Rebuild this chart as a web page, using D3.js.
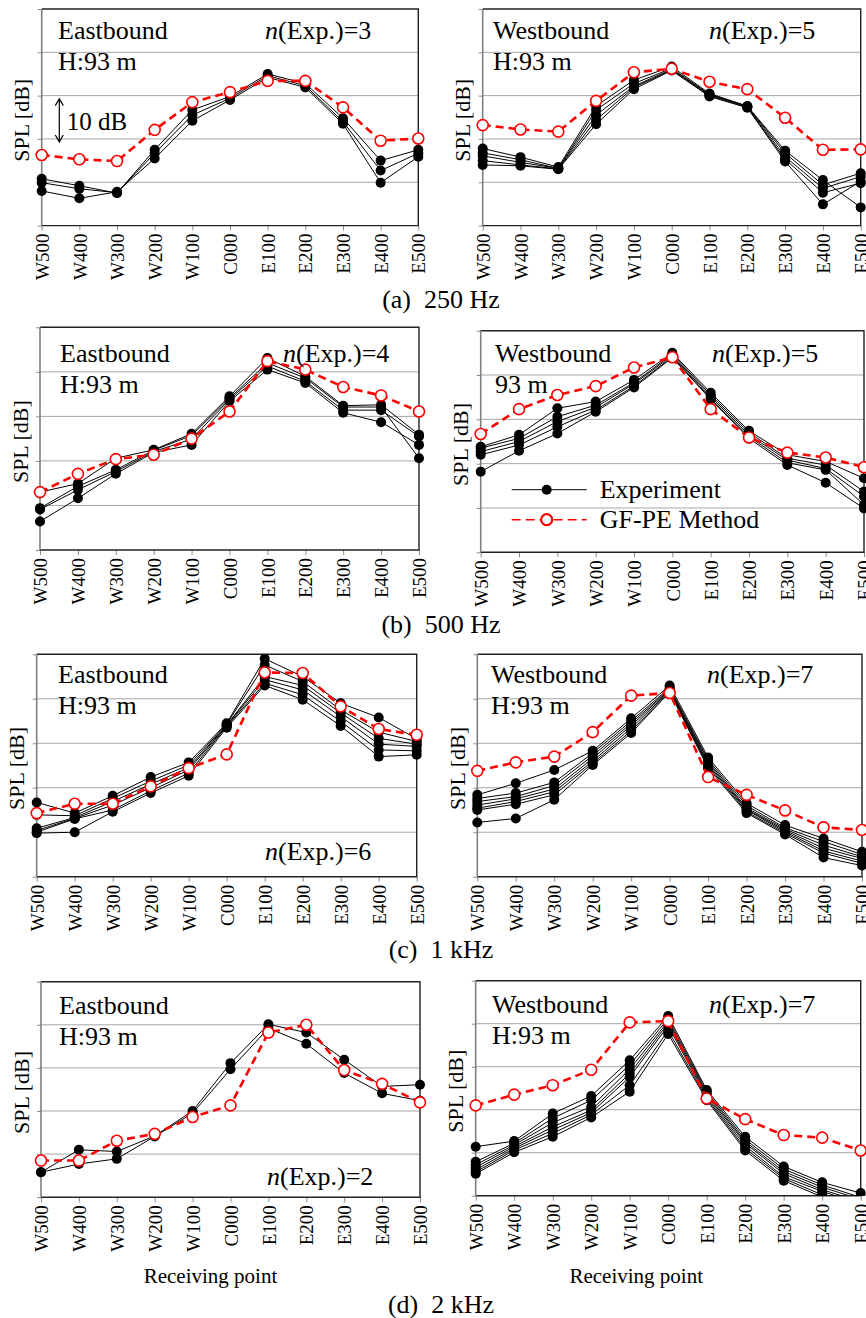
<!DOCTYPE html>
<html>
<head>
<meta charset="UTF-8">
<title>SPL along receiving points</title>
<script src="https://cdn.jsdelivr.net/npm/d3@7"></script>
<style>
  body { margin: 0; background: #fff; }
  svg { display: block; font-family: "Liberation Serif", "Times New Roman", serif; }
</style>
</head>
<body>
<svg id="chart" width="866" height="1318"></svg>
<script>
// receiving points along the road
var points = ["W500", "W400", "W300", "W200", "W100", "C000", "E100", "E200", "E300", "E400", "E500"];
// relative level grid, 10 dB per division (no absolute labels in the figure)
var levelTicks = [0, 10, 20, 30, 40, 50];

// (a) 250 Hz
var exp250East = [
  [10.8, 9.2, 7.5, 17.5, 26.7, 29.8, 35.0, 32.8, 24.8, 15.0, 17.5],
  [9.9, 8.5, 7.6, 16.7, 25.5, 29.4, 34.6, 32.3, 24.0, 12.7, 16.7],
  [8.0, 6.3, 7.8, 15.5, 24.2, 29.0, 34.2, 31.9, 23.5, 9.9, 15.9]
];
var gf250East = [16.3, 15.3, 14.9, 22.1, 28.5, 30.8, 33.4, 33.4, 27.3, 19.6, 20.1];
var exp250West = [
  [17.8, 15.8, 13.5, 27.6, 33.6, 36.7, 30.5, 27.6, 17.3, 10.5, 4.2],
  [16.8, 15.2, 13.2, 26.7, 32.8, 36.3, 30.3, 27.5, 16.7, 9.4, 12.1],
  [16.1, 14.6, 13.2, 25.5, 32.2, 36.1, 30.2, 27.5, 15.9, 8.6, 11.3],
  [15.0, 14.0, 13.1, 24.4, 31.9, 35.9, 30.0, 27.3, 15.3, 7.6, 9.8],
  [14.0, 13.8, 13.0, 23.4, 31.5, 35.8, 29.8, 27.2, 14.8, 4.9, 10.2]
];
var gf250West = [23.2, 22.2, 21.7, 28.8, 35.4, 36.2, 33.2, 31.5, 24.9, 17.5, 17.6];

// (b) 500 Hz
var exp500East = [
  [13.0, 14.9, 20.6, 22.5, 26.1, 34.5, 43.1, 39.0, 32.4, 32.6, 25.9],
  [9.4, 14.3, 18.0, 22.4, 25.7, 34.1, 42.0, 38.6, 32.1, 32.1, 20.6],
  [9.1, 13.5, 17.6, 22.1, 24.9, 33.8, 41.3, 37.9, 31.4, 31.4, 25.5],
  [6.4, 11.6, 17.1, 21.9, 23.6, 33.4, 40.5, 37.5, 30.8, 28.7, 23.6]
];
var gf500East = [13.0, 17.1, 20.4, 21.4, 25.0, 31.1, 42.4, 40.5, 36.6, 34.7, 31.1];
var exp500West = [
  [23.8, 26.5, 32.5, 34.0, 38.9, 45.0, 36.0, 27.4, 22.0, 20.5, 16.7],
  [23.5, 25.7, 30.6, 33.2, 38.3, 44.7, 35.5, 27.0, 21.2, 19.7, 13.7],
  [22.7, 25.0, 29.5, 32.7, 38.0, 44.4, 35.1, 26.5, 20.8, 18.9, 12.6],
  [22.0, 24.2, 28.3, 32.1, 37.5, 44.1, 34.7, 26.1, 20.2, 18.6, 10.7],
  [18.2, 22.9, 26.8, 31.7, 37.2, 43.9, 34.5, 25.7, 19.7, 15.7, 9.9]
];
var gf500West = [26.7, 32.3, 35.5, 37.5, 41.7, 44.0, 32.3, 25.9, 22.5, 21.4, 19.2];

// (c) 1 kHz
var exp1kEast = [
  [16.7, 14.3, 18.2, 22.4, 25.7, 34.5, 49.0, 45.0, 39.0, 35.8, 31.0],
  [13.9, 13.7, 17.6, 21.5, 25.1, 34.3, 47.6, 43.9, 37.5, 32.5, 30.4],
  [10.9, 13.3, 16.9, 20.8, 24.5, 34.1, 45.0, 43.0, 36.8, 31.1, 29.8],
  [10.4, 13.1, 16.1, 20.0, 24.0, 34.0, 44.3, 42.0, 36.0, 29.8, 29.3],
  [10.0, 13.0, 15.0, 19.3, 23.3, 33.8, 43.5, 40.9, 34.9, 28.5, 28.3],
  [9.8, 10.0, 14.6, 18.8, 22.7, 33.5, 43.0, 39.8, 33.9, 27.0, 27.4]
];
var gf1kEast = [14.3, 16.4, 16.4, 20.3, 24.4, 27.5, 45.9, 45.8, 38.3, 33.2, 31.9];
var exp1kWest = [
  [18.4, 21.0, 24.0, 28.3, 35.6, 43.0, 26.8, 16.5, 11.6, 8.6, 5.6],
  [17.6, 18.8, 21.2, 27.8, 35.0, 42.5, 26.3, 16.0, 11.0, 7.9, 5.0],
  [16.9, 18.0, 20.5, 27.2, 34.5, 42.2, 25.9, 15.5, 10.7, 7.1, 4.5],
  [16.1, 17.5, 19.7, 26.6, 34.0, 42.0, 25.5, 15.2, 10.4, 6.4, 4.1],
  [15.4, 16.9, 19.1, 26.0, 33.4, 41.8, 25.1, 15.0, 10.1, 5.8, 3.5],
  [15.0, 16.3, 18.4, 25.5, 32.8, 41.6, 24.8, 14.6, 9.8, 5.3, 3.0],
  [12.2, 13.1, 17.3, 25.1, 32.3, 41.5, 24.4, 14.3, 9.5, 4.3, 2.5]
];
var gf1kWest = [23.8, 25.7, 27.0, 32.5, 40.7, 41.3, 22.4, 18.4, 14.9, 11.1, 10.5];

// (d) 2 kHz
var exp2kEast = [
  [5.8, 11.0, 10.6, 14.2, 20.0, 31.1, 40.1, 38.2, 31.9, 25.7, 26.1],
  [5.8, 7.7, 8.9, 14.1, 19.5, 29.7, 39.2, 35.6, 28.8, 24.1, 22.4]
];
var gf2kEast = [8.5, 8.5, 13.1, 14.7, 18.6, 21.3, 38.2, 40.0, 29.5, 26.3, 22.0];
var exp2kWest = [
  [11.4, 12.7, 19.1, 23.2, 31.5, 41.8, 24.6, 13.7, 6.8, 3.1, 0.6],
  [7.9, 12.2, 18.0, 22.2, 30.4, 41.2, 24.2, 13.1, 6.2, 2.5, -0.4],
  [7.2, 11.8, 17.0, 20.7, 29.4, 40.6, 23.8, 12.6, 5.6, 2.0, -0.9],
  [6.6, 11.4, 16.0, 19.9, 28.4, 40.1, 23.4, 12.2, 5.1, 1.4, -1.4],
  [6.0, 11.0, 15.3, 19.3, 27.6, 39.5, 23.0, 11.6, 4.4, 1.0, -1.9],
  [5.5, 10.6, 14.5, 18.8, 25.7, 38.4, 22.6, 11.0, 4.0, 0.2, -2.4],
  [5.1, 10.1, 13.7, 18.2, 24.2, 37.6, 22.2, 10.5, 3.5, -0.3, -2.9]
];
var gf2kWest = [21.0, 23.5, 25.7, 29.3, 40.3, 40.6, 22.6, 17.8, 14.1, 13.5, 10.5];

var captions = ["(a)  250 Hz", "(b)  500 Hz", "(c)  1 kHz", "(d)  2 kHz"];

// panel layout: plot box, text anchors
var panels = [
  {exp: exp250East, gf: gf250East, title: "Eastbound", sub: "H:93 m", n: 3,
   box: [41.7, 9, 418.3, 225.6], tx: 58, ty: 39, nx: 265, ny: 39, scaleBar: true},
  {exp: exp250West, gf: gf250West, title: "Westbound", sub: "H:93 m", n: 5,
   box: [482.7, 9, 860.7, 225.6], tx: 493, ty: 39, nx: 709, ny: 39},
  {exp: exp500East, gf: gf500East, title: "Eastbound", sub: "H:93 m", n: 4,
   box: [40, 327.3, 419, 550], tx: 60, ty: 362, nx: 283, ny: 362},
  {exp: exp500West, gf: gf500West, title: "Westbound", sub: "93 m", n: 5,
   box: [480.7, 330.7, 864, 552.3], tx: 495, ty: 362, nx: 712, ny: 362, legend: true},
  {exp: exp1kEast, gf: gf1kEast, title: "Eastbound", sub: "H:93 m", n: 6,
   box: [36.7, 654.3, 416.7, 876.7], tx: 58, ty: 683, nx: 265, ny: 860},
  {exp: exp1kWest, gf: gf1kWest, title: "Westbound", sub: "H:93 m", n: 7,
   box: [477.3, 654.3, 862, 876.7], tx: 491, ty: 683, nx: 707, ny: 683},
  {exp: exp2kEast, gf: gf2kEast, title: "Eastbound", sub: "H:93 m", n: 2,
   box: [41, 981.7, 420, 1197.2], tx: 59, ty: 1014, nx: 267, ny: 1185, xTitle: true},
  {exp: exp2kWest, gf: gf2kWest, title: "Westbound", sub: "H:93 m", n: 7,
   box: [475.7, 980.7, 860.7, 1195.7], tx: 492, ty: 1013, nx: 709, ny: 1013, xTitle: true}
];
var captionY = [308, 633, 958, 1313];

var svg = d3.select("#chart");
var red = "#ff0000";

panels.forEach(function(p, i) {
  var x0 = p.box[0], y0 = p.box[1], w = p.box[2] - p.box[0], h = p.box[3] - p.box[1];
  var g = svg.append("g").attr("transform", "translate(" + x0 + "," + y0 + ")");

  var x = d3.scalePoint().domain(points).range([0, w]);
  var y = d3.scaleLinear().domain([0, 50]).range([h, 0]);

  // grid
  g.selectAll("line.grid").data(levelTicks.slice(1, -1)).enter().append("line")
    .attr("x1", 0).attr("x2", w)
    .attr("y1", function(d) { return y(d); }).attr("y2", function(d) { return y(d); })
    .attr("stroke", "#a6a6a6").attr("stroke-width", 1);

  // y axis: ticks only
  var ya = g.append("g").call(d3.axisLeft(y).tickValues(levelTicks).tickSize(4).tickFormat(""));
  ya.select(".domain").remove();
  ya.selectAll("line").attr("stroke", "#8c8c8c");

  // x axis
  var xa = g.append("g").attr("transform", "translate(0," + h + ")")
    .call(d3.axisBottom(x).tickSize(5));
  xa.select(".domain").remove();
  xa.selectAll("line").attr("stroke", "#8c8c8c");
  xa.selectAll("text")
    .attr("transform", "rotate(-90)")
    .attr("x", -8).attr("y", 0).attr("dy", "0.35em")
    .style("text-anchor", "end")
    .style("font-size", "19px")
    .style("font-family", "'Liberation Serif', serif")
    .attr("fill", "#000");

  // frame
  g.append("path").attr("d", "M0,0H" + w + "V" + h + "H0")
    .attr("fill", "none").attr("stroke", "#222").attr("stroke-width", 1.4);
  g.append("line").attr("x1", 0).attr("x2", 0).attr("y1", 0).attr("y2", h)
    .attr("stroke", "#7f7f7f").attr("stroke-width", 1.6);

  // y label
  g.append("text").attr("transform", "rotate(-90)")
    .attr("x", -h / 2 - 3).attr("y", -12.5)
    .attr("text-anchor", "middle").style("font-size", "22px")
    .text("SPL [dB]");

  // marks, clipped vertically to the plot
  var clipId = "clip" + i;
  g.append("clipPath").attr("id", clipId).append("rect")
    .attr("x", -20).attr("y", 0).attr("width", w + 40).attr("height", h);
  var marks = g.append("g").attr("clip-path", "url(#" + clipId + ")");

  var line = d3.line().x(function(d, k) { return x(points[k]); }).y(function(d) { return y(d); });

  marks.selectAll("path.exp").data(p.exp).enter().append("path")
    .attr("d", line).attr("fill", "none").attr("stroke", "#000").attr("stroke-width", 1);
  p.exp.forEach(function(s) {
    marks.selectAll(null).data(s).enter().append("circle")
      .attr("cx", function(d, k) { return x(points[k]); })
      .attr("cy", function(d) { return y(d); })
      .attr("r", 5).attr("fill", "#000");
  });

  marks.append("path").attr("d", line(p.gf)).attr("fill", "none")
    .attr("stroke", red).attr("stroke-width", 2.6).attr("stroke-dasharray", "8,5");
  marks.selectAll("circle.gf").data(p.gf).enter().append("circle")
    .attr("cx", function(d, k) { return x(points[k]); })
    .attr("cy", function(d) { return y(d); })
    .attr("r", 5.5).attr("fill", "#fff").attr("stroke", red).attr("stroke-width", 1.6);

  // panel text
  svg.append("text").attr("x", p.tx).attr("y", p.ty).style("font-size", "26px").text(p.title);
  svg.append("text").attr("x", p.tx).attr("y", p.ty + 31).style("font-size", "26px").text(p.sub);
  var nt = svg.append("text").attr("x", p.nx).attr("y", p.ny).style("font-size", "26px");
  nt.append("tspan").style("font-style", "italic").text("n");
  nt.append("tspan").text("(Exp.)=" + p.n);

  if (p.scaleBar) {
    var ax = 17.6, ya1 = y(30) + 3, ya2 = y(20) + 3;
    g.append("path")
      .attr("d", "M" + ax + "," + ya1 + "V" + ya2 +
        "M" + (ax - 4) + "," + (ya1 + 7) + "L" + ax + "," + ya1 + "L" + (ax + 4) + "," + (ya1 + 7) +
        "M" + (ax - 4) + "," + (ya2 - 7) + "L" + ax + "," + ya2 + "L" + (ax + 4) + "," + (ya2 - 7))
      .attr("fill", "none").attr("stroke", "#000").attr("stroke-width", 1.2);
    g.append("text").attr("x", 25).attr("y", y(20) - 9).style("font-size", "25px").text("10 dB");
  }

  if (p.legend) {
    var lg = g.append("g").attr("transform", "translate(31,159)");
    lg.append("line").attr("x1", 0).attr("x2", 75).attr("y1", 0).attr("y2", 0)
      .attr("stroke", "#000").attr("stroke-width", 1);
    lg.append("circle").attr("cx", 35).attr("cy", 0).attr("r", 5).attr("fill", "#000");
    lg.append("text").attr("x", 88).attr("y", 8).style("font-size", "26px").text("Experiment");
    lg.append("line").attr("x1", 0).attr("x2", 75).attr("y1", 30).attr("y2", 30)
      .attr("stroke", red).attr("stroke-width", 1.6).attr("stroke-dasharray", "9,5");
    lg.append("circle").attr("cx", 35).attr("cy", 30).attr("r", 5.5)
      .attr("fill", "#fff").attr("stroke", red).attr("stroke-width", 2.2);
    lg.append("text").attr("x", 88).attr("y", 38).style("font-size", "26px").text("GF-PE Method");
  }

  if (p.xTitle) {
    svg.append("text").attr("x", x0 + w / 2 - 20 + (i === 7 ? -12 : 0)).attr("y", 1283)
      .attr("text-anchor", "middle").style("font-size", "21px").text("Receiving point");
  }
});

svg.selectAll("text.caption").data(captions).enter().append("text")
  .attr("class", "caption")
  .attr("x", 441).attr("y", function(d, i) { return captionY[i]; })
  .attr("text-anchor", "middle").style("font-size", "26px").style("white-space", "pre")
  .text(function(d) { return d; });
</script>
</body>
</html>
